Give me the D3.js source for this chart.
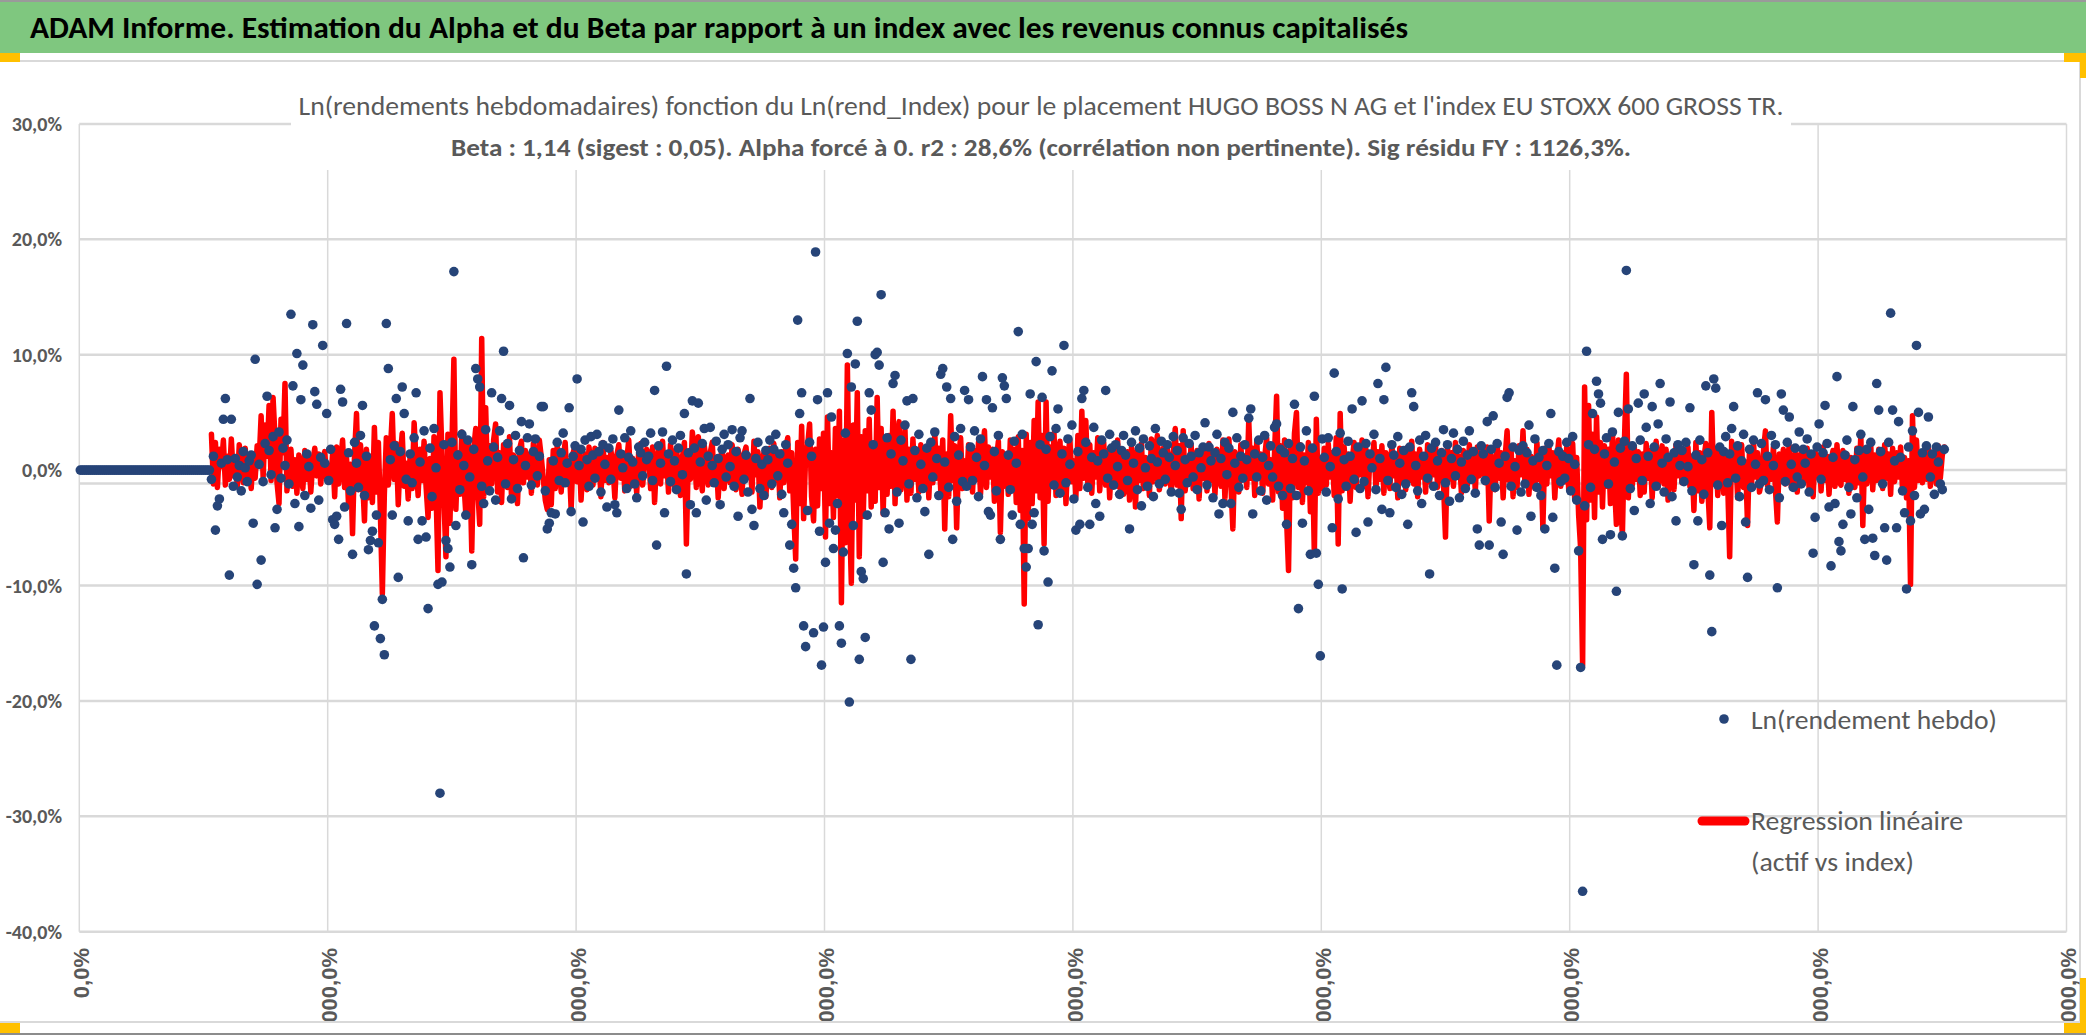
<!DOCTYPE html>
<html>
<head>
<meta charset="utf-8">
<script src="https://cdnjs.cloudflare.com/ajax/libs/d3/7.8.5/d3.min.js"></script>
<style>
  html, body { margin: 0; padding: 0; background: #fff; overflow: hidden; }
  svg { display: block; }
</style>
</head>
<body>
<svg id="chart" width="2086" height="1035"></svg>
<script>
// --- texts ---
const titreBandeau = "ADAM Informe. Estimation du Alpha et du Beta par rapport à un index avec les revenus connus capitalisés";
const titreLigne1 = "Ln(rendements hebdomadaires) fonction du Ln(rend_Index) pour le placement HUGO BOSS N AG et l'index EU STOXX 600 GROSS TR.";
const titreLigne2 = "Beta : 1,14 (sigest : 0,05). Alpha forcé à 0. r2 : 28,6% (corrélation non pertinente). Sig résidu FY : 1126,3%.";
const legendeRendement = "Ln(rendement hebdo)";
const legendeRegression = ["Regression linéaire", "(actif vs index)"];

// --- axes ---
const yTicks = [-40, -30, -20, -10, 0, 10, 20, 30];
const xTicks = [0, 250, 500, 750, 1000, 1250, 1500, 1750, 2000];
const xTickLabels = ["0,0%", "10000,0%", "20000,0%", "30000,0%", "40000,0%", "50000,0%", "60000,0%", "70000,0%", "80000,0%"];
const axeCroisement = -1.17; // horizontal axis line crosses the value axis here

// --- series (weekly, every 2nd week, values in %) ---
const pasSemaine = 2;
const debutAvant = 1;      // weeks without quotes: return is 0
const lnRendementAvant = [0,0,0,0,0,0,0,0,0,0,0,0,0,0,0,0,0,0,0,0,0,0,0,0,0,0,0,0,0,0,0,0,0,0,0,0,0,0,0,0,0,0,0,0,0,0,0,0,0,0,0,0,0,0,0,0,0,0,0,0,0,0,0,0,0,0];
const debutSerie = 133;
const lnRendement = [
-0.8,1.2,-5.2,-3.1,-2.5,0.6,4.4,6.2,0.9,-9.1,4.4,-1.4,1.0,-0.6,0.4,-1.8,1.6,0.2,-1.0,0.8,
1.3,-4.6,9.6,-9.9,0.5,-7.8,-1.0,2.3,6.4,1.7,-0.4,2.9,-5.0,-3.4,3.3,-0.7,1.9,0.4,2.6,-1.2,
13.5,7.3,-2.9,10.1,-4.9,6.1,9.1,-2.2,1.4,0.3,-3.3,12.6,6.8,5.7,-2.6,1.1,10.8,0.6,4.9,-0.9,
1.8,-4.3,-4.7,-4.0,-6.0,7.0,5.9,-3.2,12.7,1.5,-1.8,-7.3,2.4,0.6,-1.5,3.0,5.6,-2.2,1.2,-6.9,
-6.1,-5.3,-13.5,-3.9,-6.3,-14.6,-11.2,-16.0,12.7,8.8,0.9,-3.9,2.1,6.2,-9.3,1.6,7.2,4.9,-0.8,-4.4,
1.4,-1.1,2.8,6.7,-6.0,0.7,-4.4,3.4,-5.8,-12.0,1.9,-2.3,3.6,0.2,-9.9,-28.0,-9.7,2.2,-6.1,-6.8,
-8.4,2.4,17.2,-4.8,1.3,-1.7,3.1,0.4,-3.9,2.6,-0.6,-8.2,1.8,8.8,7.9,7.2,-1.4,-2.9,3.5,0.8,
-1.8,6.7,2.0,-2.6,1.1,3.4,6.2,10.3,-1.2,2.3,5.6,-2.5,0.9,3.0,-1.6,1.7,4.2,-7.6,0.4,2.8,
4.0,-1.3,1.6,2.7,-0.5,1.2,5.5,5.5,-1.8,-5.1,-4.6,-3.7,0.8,-3.8,2.4,-0.9,1.5,3.2,-1.1,0.6,
5.4,-3.6,1.2,2.1,7.9,0.4,1.8,-4.5,2.6,0.9,-1.4,2.9,1.3,-0.7,3.1,1.6,-1.9,2.2,0.5,-3.2,
1.9,-0.8,2.7,-3.0,-3.7,5.2,1.4,0.2,2.8,-1.6,1.1,3.4,0.7,-1.2,-2.4,2.0,1.5,-0.5,2.4,0.9,
1.2,3.2,-0.9,6.9,-6.5,2.1,0.6,3.3,-3.7,9.0,1.4,-1.0,2.6,0.8,-1.7,1.9,3.0,-0.4,4.9,-9.0,
1.5,-3.0,6.0,1.9,-3.7,5.8,0.7,2.3,3.6,-2.6,1.2,3.7,0.4,-1.1,2.5,1.0,-3.0,1.8,3.1,-0.6,
2.2,0.3,3.5,-1.4,1.6,-4.0,2.8,3.4,-0.8,1.3,-1.9,6.2,-3.4,-4.8,1.0,2.4,-1.6,0.5,-2.2,1.7,
0.9,2.6,-1.2,1.8,3.1,-0.5,1.4,-2.1,-3.7,2.2,0.6,-6.5,-4.7,-8.5,-10.2,13.0,4.9,6.7,-13.5,-15.3,
-3.5,2.4,1.2,-14.1,18.9,6.1,-5.3,-16.9,-13.6,-8.0,6.7,-4.6,4.6,-6.8,-5.2,-2.9,-13.5,-15.0,-7.1,3.2,
10.1,-20.1,7.2,-4.8,9.2,12.9,-16.4,-8.8,-9.4,-14.5,-3.9,6.7,5.2,2.2,10.0,10.2,9.1,15.2,-8.0,-3.7,
2.8,-5.1,1.4,7.5,8.2,-1.9,-4.6,2.6,0.8,3.9,6.0,-1.2,-16.4,6.2,1.7,-2.4,3.1,0.5,-1.6,-3.6,
1.9,-7.3,2.4,-0.6,3.3,1.0,-2.2,8.3,8.8,0.7,7.2,-1.5,6.2,-6.0,2.9,-2.7,1.3,3.6,-1.0,6.9,
-1.4,6.1,2.0,-0.9,3.4,1.1,-2.3,2.7,8.1,0.4,6.1,-3.6,-3.9,5.4,1.6,-1.8,3.0,-6.0,8.0,7.3,
6.2,1.3,-1.7,-3.9,2.5,0.6,12.0,-4.7,3.1,-6.8,-8.4,-6.8,6.6,-4.7,-3.7,9.4,-13.4,2.2,6.3,-7.0,
1.8,-9.7,2.9,8.6,-1.3,3.6,5.3,-2.0,1.4,10.8,-1.1,2.7,0.5,3.9,-2.5,-5.2,1.6,-4.7,6.2,6.9,
2.4,-1.5,-4.7,1.1,3.7,-2.9,0.8,-4.0,2.6,1.4,6.9,-0.7,3.1,1.9,-1.3,2.2,0.3,-2.1,1.7,3.0,
1.3,-0.9,-5.1,2.4,0.6,3.4,-1.7,1.9,-3.1,2.7,0.2,-1.4,2.1,1.0,-2.3,3.6,0.7,-1.2,2.5,1.5,
-0.8,2.2,1.1,-1.9,2.9,0.4,1.7,-2.0,-3.4,2.8,0.9,-1.1,2.3,1.2,-0.6,3.0,-1.7,1.5,0.2,2.0,
4.1,-1.3,2.0,0.8,-2.4,1.5,3.1,-3.8,1.0,-2.9,2.4,-0.4,1.9,-2.9,5.0,0.6,2.8,-1.5,1.2,-0.7,
2.2,0.9,4.5,5.3,-3.8,1.4,-0.6,2.6,-1.8,1.1,3.0,-2.6,0.4,2.1,-0.6,3.7,4.0,-1.4,1.8,-2.2,
1.5,-4.7,2.3,-1.6,1.0,5.7,-2.2,-12.0,2.0,-4.6,0.8,3.4,-1.8,-7.3,1.9,6.4,-7.2,-9.9,-16.1,2.7,
1.1,-1.9,2.8,0.3,-5.0,8.4,1.6,-2.5,3.2,-10.3,0.9,-1.4,2.5,1.2,5.3,-0.8,-5.4,2.0,-1.6,6.0,
-1.0,2.3,-4.5,1.4,0.2,3.1,-1.7,7.5,1.0,-3.4,6.1,8.9,-0.9,-3.7,2.2,1.3,-1.5,2.9,0.6,-2.1,
1.7,-1.2,-4.7,2.0,6.7,5.5,0.4,-1.8,2.6,-2.9,1.2,3.0,-0.7,-9.0,1.9,-1.4,2.4,0.8,-2.2,1.5,
3.5,-1.1,2.2,-2.7,1.0,3.2,-0.5,1.8,-2.4,0.7,2.5,-1.6,1.3,3.4,-0.8,1.6,-2.0,-5.1,-6.5,2.1,
1.4,-0.9,4.2,-6.5,1.8,4.7,-1.5,2.3,0.6,-4.5,-7.3,1.2,6.3,6.7,-1.4,2.0,0.3,-5.2,1.7,-1.9,
2.1,-1.2,1.5,3.9,-4.0,0.8,2.7,-1.5,1.1,-2.2,1.7,-5.1,0.4,2.3,4.9,-4.1,-8.5,-16.9,1.6,-1.0,
1.2,-0.7,2.4,1.0,-1.8,2.9,0.5,-2.6,-7.0,-17.1,-36.5,-3.1,10.3,2.2,-1.5,4.9,1.8,7.7,6.6,5.8,
-6.0,1.4,2.8,-1.2,-5.6,3.3,0.7,-10.5,5.0,1.9,-5.7,2.5,17.3,5.3,-1.6,2.1,-3.5,1.0,5.8,2.6,
-0.9,6.6,3.7,1.2,-2.9,5.5,2.0,-1.4,4.0,7.5,0.6,-1.9,2.7,1.1,5.9,-2.3,1.5,-4.4,2.2,0.4,
1.7,-1.0,2.4,0.3,5.4,-1.8,-8.2,1.3,-4.4,2.6,0.9,-2.1,7.3,1.5,-9.1,-14.0,7.9,7.1,-1.3,2.0,
-4.8,1.6,2.9,-1.1,1.4,3.6,5.5,-0.7,2.1,-2.3,0.8,3.1,-4.5,-9.3,1.8,-1.5,2.6,0.5,6.7,-1.2,
2.3,-0.9,6.1,1.2,-1.7,3.0,0.4,2.2,-10.2,-2.4,6.6,5.2,-1.0,2.4,4.6,0.5,-1.5,1.9,-0.6,3.3,
-1.2,1.8,0.6,2.7,-1.9,1.4,-7.2,-4.1,2.0,4.0,-0.8,1.5,5.6,2.3,-3.2,-8.3,1.1,-2.9,8.1,-6.2,
-7.0,-4.7,1.3,2.6,-1.5,-3.8,5.5,0.9,-2.4,1.7,3.1,-0.6,-6.0,1.8,-3.4,2.4,-5.9,-7.4,7.5,5.2,
1.6,-1.2,-5.0,-7.8,2.4,13.6,5.2,0.8,-5.0,4.2,1.1,-1.8,-3.7,-10.3,2.0,-4.4,3.4,-2.2,10.8,5.0,
-3.8,1.5,-3.4,2.1,4.6,-0.6,1.4,-2.1,2.0,0.7,-1.2,-1.7,1.8
];
const regression = [
3.1,-1.2,2.4,-1.5,1.8,0.3,2.6,-1.3,1.2,-0.8,2.7,-0.5,1.1,-1.4,2.2,0.4,-1.1,1.9,-0.9,0.6,
-1.6,1.4,-0.7,2.1,0.8,4.7,-0.6,3.9,1.2,5.6,-0.9,6.3,2.8,-1.1,-2.9,4.4,1.5,7.5,-1.8,0.7,
1.8,-1.4,0.9,-2.0,1.3,0.2,-1.6,1.7,-0.8,1.1,-1.9,0.7,1.9,-0.5,1.4,-1.2,0.8,1.6,-0.7,0.4,
-0.9,1.5,-2.3,2.0,-1.2,0.8,2.6,-1.5,1.0,-3.1,0.5,-5.5,1.3,4.9,-1.7,2.2,-0.6,-4.4,1.8,-2.4,
1.2,-2.8,3.7,-1.9,2.4,-3.6,-10.7,-2.1,2.8,-1.3,1.6,4.9,-0.8,2.3,-3.0,1.1,3.2,-1.4,0.6,-2.5,
1.3,-1.6,4.1,0.7,-2.2,1.8,-0.9,2.5,-1.4,-4.1,1.0,-3.3,2.9,-1.8,-8.7,6.7,1.4,-2.6,-7.5,3.1,
-4.6,2.0,9.6,-3.4,1.5,-2.1,3.3,-1.0,-3.8,2.7,0.5,-7.0,1.9,3.6,-1.7,-4.7,11.4,-2.3,5.4,-1.5,
2.1,-1.2,2.6,4.0,-1.9,1.5,-2.8,2.2,0.6,-1.5,2.9,-2.4,1.3,0.2,-2.9,1.8,2.5,-1.1,1.7,-0.6,
1.4,-2.0,2.3,0.5,-1.3,2.6,1.1,-0.8,-2.6,-3.4,0.9,-3.0,1.7,-1.6,2.2,0.3,-1.9,1.0,2.4,-1.2,
0.8,-3.4,1.5,2.1,-1.0,1.8,-2.6,0.6,1.4,-1.7,2.0,0.3,-1.3,1.9,-0.6,1.2,-2.3,2.4,-0.9,1.1,
-1.1,1.7,0.4,-2.4,1.3,2.2,-0.7,1.5,-1.8,0.9,2.6,-1.4,1.0,0.2,-2.0,1.6,2.3,-1.3,0.7,1.8,
1.4,-1.6,2.0,-2.8,0.9,1.7,-1.2,2.5,-0.5,1.3,-1.9,2.2,0.6,-1.4,1.8,0.3,-2.2,1.1,2.4,-6.4,
1.2,-0.8,3.3,1.6,-1.5,2.9,0.4,-1.8,2.1,0.8,-1.3,1.5,2.4,-0.9,1.1,-2.4,0.6,1.9,-1.6,0.9,
1.3,-1.1,2.2,0.3,-1.7,1.8,0.7,-2.1,1.4,2.0,-0.6,1.2,-1.9,2.5,-0.4,1.6,-3.2,0.8,1.5,-2.3,
0.7,1.9,-1.5,2.3,-0.9,1.2,-2.4,1.6,-1.1,2.0,2.8,-1.8,1.5,-3.6,-7.7,2.4,-2.9,3.8,-4.2,1.3,
2.1,4.0,-2.3,-4.4,1.8,-3.1,2.7,-1.6,3.2,-5.8,4.6,-2.9,1.5,-4.1,3.6,-2.2,5.1,-11.5,2.6,-6.3,
9.1,-3.4,-9.8,3.9,-2.6,6.7,-7.5,2.9,-4.0,3.4,-1.8,4.4,-3.2,2.1,-2.7,6.3,-1.5,3.6,-3.8,2.4,
-2.1,3.0,-1.4,5.1,-2.9,2.3,4.2,-1.7,1.2,3.5,-2.6,1.8,-2.0,2.7,-0.8,1.5,-1.9,2.2,0.4,-1.3,
1.6,-2.4,2.0,-1.1,3.1,-0.7,1.9,-1.8,2.6,-5.1,1.4,-2.3,4.7,-0.9,2.1,-5.0,1.2,2.8,-1.6,0.8,
-1.2,2.2,0.6,-1.9,1.7,-0.8,2.4,-2.1,1.3,3.4,-1.5,2.0,-0.6,1.8,-2.7,0.9,2.5,-5.4,1.6,-1.4,
1.4,-2.1,2.6,-1.3,1.8,-2.8,2.9,-3.5,1.7,-11.6,3.1,-4.2,2.4,-2.9,4.3,-1.8,5.9,-2.4,3.0,-6.4,
5.9,-2.7,2.0,-1.4,3.2,-2.2,1.1,2.5,-1.7,1.9,-2.9,1.3,2.6,-1.0,0.8,-2.3,3.0,-1.6,5.1,-0.7,
4.3,-1.1,2.2,-2.0,1.5,-0.6,2.8,-1.8,1.0,2.4,-1.3,1.7,-2.4,0.9,1.9,-0.8,2.6,-1.5,1.2,-2.1,
-1.4,1.6,-2.6,2.0,0.5,-3.2,1.8,-0.9,2.3,-1.6,1.1,0.4,-2.2,2.7,-1.0,1.4,3.0,-1.7,0.8,1.9,
-1.2,1.9,0.6,-2.0,1.4,3.6,-1.3,2.1,-4.2,3.4,-1.8,1.0,-0.5,2.2,-1.6,0.8,1.7,-2.5,1.3,-0.7,
1.5,-1.8,2.3,-0.9,1.2,-2.1,1.8,0.5,-1.4,2.6,-2.5,1.1,2.7,-1.2,-5.1,1.6,0.3,-1.9,2.2,-0.8,
1.2,-1.5,4.3,-0.7,1.9,-2.2,2.5,-0.6,1.4,-2.0,1.1,2.8,-1.2,0.9,-2.6,1.6,6.4,-1.9,2.1,-3.3,
2.6,-4.1,-8.7,1.8,-2.4,3.2,5.0,-1.5,2.2,-2.8,1.3,-1.1,2.4,-3.6,1.7,-7.3,4.4,-2.0,1.0,-1.6,
1.9,-1.3,2.3,-0.6,1.5,-2.2,2.8,-6.4,4.9,-1.8,2.0,-1.2,1.4,-2.7,0.8,2.4,-1.5,1.7,-0.4,2.6,
-1.4,1.8,-2.3,1.2,0.5,2.4,-1.7,1.6,-0.8,2.1,-2.0,1.5,0.9,-1.6,2.3,-0.5,1.3,-2.4,1.9,-1.0,
1.3,-1.7,2.0,-0.9,2.5,-1.2,1.4,-2.3,1.8,-0.6,1.1,-1.9,2.2,-1.0,1.6,-0.4,2.1,-1.5,0.9,1.7,
-1.2,-5.8,2.1,-0.8,1.5,-1.4,2.4,-0.6,1.2,-2.0,1.7,0.4,-1.3,2.2,-0.9,1.4,-1.8,2.0,-0.5,1.3,
1.6,-1.1,2.0,-4.4,1.3,0.5,-1.7,2.2,-0.7,1.5,-2.4,1.1,3.4,-0.9,1.8,-2.3,0.8,-1.5,2.1,-0.4,
3.4,-1.3,1.8,-2.1,1.2,0.6,-1.6,2.4,-0.8,1.3,-5.0,1.9,-1.2,2.2,-0.5,1.5,-2.4,0.9,2.6,-1.4,
1.5,-1.0,2.0,-1.7,0.8,2.3,-2.5,1.1,-3.9,-6.8,-16.9,7.2,-4.3,5.6,-2.6,3.1,-4.1,4.6,-1.9,2.4,
-3.2,2.1,-1.4,1.8,-2.9,3.4,-1.1,-4.7,2.6,-1.8,-5.7,2.2,8.3,-2.4,1.5,-1.3,2.0,-0.8,1.6,-2.2,
1.4,-1.9,2.3,-0.7,1.7,-2.4,1.0,2.5,-1.5,0.6,2.1,-1.2,1.8,-2.6,0.9,1.3,-1.7,2.2,-0.5,1.6,
-1.1,1.7,-0.6,2.0,-1.4,1.2,-3.5,2.4,-1.8,1.5,-2.7,1.0,2.3,-1.6,-5.0,5.0,-1.2,1.8,-2.2,0.7,
1.9,-2.0,1.2,-1.1,-7.5,2.5,-0.8,1.6,-2.4,1.1,2.2,-1.5,0.7,-4.8,1.9,-1.3,2.4,-0.6,1.5,-1.9,
-1.0,1.6,3.4,-1.3,1.2,-0.8,2.0,-1.6,-4.5,1.4,-0.7,1.8,-1.2,1.0,2.1,-1.4,0.6,1.5,-1.9,1.1,
1.5,-1.2,0.8,1.9,-1.7,1.1,-2.3,1.6,-0.5,1.3,-1.8,2.0,-0.9,1.2,-2.1,0.7,1.7,-1.4,2.2,-1.0,
-1.3,1.7,-0.8,1.4,-2.0,1.1,0.6,-1.5,1.9,-1.1,3.0,-4.8,1.6,-1.2,0.9,2.1,-1.7,1.3,-0.9,1.8,
1.2,-1.6,2.2,-0.7,1.4,-2.1,1.9,-1.0,1.5,-0.6,2.0,-1.8,1.1,-2.4,0.8,-9.9,4.7,-1.5,2.6,-0.9,
1.3,-1.1,1.6,-0.8,1.9,-1.4,0.9,1.5,-1.2,2.1,-0.7,1.3,2.0
];

// --- build ---
const W = 2086, H = 1035;
const svg = d3.select('#chart');
const gris = '#595959', grille = '#d9d9d9';
const fontCalibri = "Carlito, Lato, 'Noto Sans', sans-serif";

// top banner
svg.append('rect').attr('x', 0).attr('y', 0).attr('width', W).attr('height', 2).attr('fill', '#9a9a9a');
svg.append('rect').attr('x', 0).attr('y', 2).attr('width', W).attr('height', 51).attr('fill', '#7fc77f');
svg.append('text')
  .attr('x', 30).attr('y', 38)
  .attr('textLength', 1378).attr('lengthAdjust', 'spacingAndGlyphs')
  .style('font-family', fontCalibri).style('font-weight', 'bold').style('font-size', '30px')
  .attr('fill', '#000')
  .text(titreBandeau);

// chart area frame
svg.append('rect').attr('x', -2).attr('y', 61).attr('width', 2082).attr('height', 961)
  .attr('fill', '#fff').attr('stroke', grille).attr('stroke-width', 2);
svg.append('line').attr('x1', 0).attr('x2', W).attr('y1', 1034).attr('y2', 1034)
  .attr('stroke', '#8c8c8c').attr('stroke-width', 2);

const x = d3.scaleLinear().domain([0, 2000]).range([79.3, 2066.5]);
const y = d3.scaleLinear().domain([-40, 30]).range([931.7, 123.9]);

// gridlines
const grid = svg.append('g');
grid.selectAll('line.h').data(yTicks).join('line')
  .attr('class', 'h')
  .attr('x1', x(0)).attr('x2', x(2000))
  .attr('y1', d => y(d)).attr('y2', d => y(d))
  .attr('stroke', grille).attr('stroke-width', 2.5);
grid.selectAll('line.v').data(xTicks).join('line')
  .attr('class', 'v')
  .attr('x1', d => x(d)).attr('x2', d => x(d))
  .attr('y1', y(30)).attr('y2', y(-40))
  .attr('stroke', grille).attr('stroke-width', 1.5);
grid.append('line')
  .attr('x1', x(0)).attr('x2', x(2000))
  .attr('y1', y(axeCroisement)).attr('y2', y(axeCroisement))
  .attr('stroke', grille).attr('stroke-width', 2.5);

// y axis labels
const fmtPct = v => v.toFixed(1).replace('.', ',') + '%';
svg.append('g').selectAll('text').data(yTicks).join('text')
  .attr('x', 62).attr('y', d => y(d)).attr('dy', '0.35em')
  .attr('text-anchor', 'end')
  .style('font-family', fontCalibri).style('font-weight', 'bold').style('font-size', '20px')
  .attr('fill', gris)
  .text(fmtPct);

// x axis labels (rotated, clipped by the chart frame as in Excel)
svg.append('clipPath').attr('id', 'clipX')
  .append('rect').attr('x', 0).attr('y', 935).attr('width', W).attr('height', 86);
svg.append('g').attr('clip-path', 'url(#clipX)')
  .selectAll('text').data(xTicks).join('text')
  .attr('transform', d => `translate(${x(d) + 2},948) rotate(-90)`)
  .attr('dy', '0.35em')
  .attr('text-anchor', 'end')
  .style('font-family', "'Liberation Sans', Arial, sans-serif").style('font-weight', 'bold').style('font-size', '22px')
  .attr('fill', gris)
  .text((d, i) => xTickLabels[i]);

// chart title box (hides the gridlines behind it)
svg.append('rect').attr('x', 291).attr('y', 70).attr('width', 1500).attr('height', 100).attr('fill', '#fff');
svg.append('text')
  .attr('x', 1041).attr('y', 115).attr('text-anchor', 'middle')
  .attr('textLength', 1485).attr('lengthAdjust', 'spacingAndGlyphs')
  .style('font-family', fontCalibri).style('font-size', '27px')
  .attr('fill', gris)
  .text(titreLigne1);
svg.append('text')
  .attr('x', 1041).attr('y', 156).attr('text-anchor', 'middle')
  .attr('textLength', 1180).attr('lengthAdjust', 'spacingAndGlyphs')
  .style('font-family', fontCalibri).style('font-weight', 'bold').style('font-size', '25px')
  .attr('fill', gris)
  .text(titreLigne2);

// data
const pointsAvant = lnRendementAvant.map((v, i) => ({ w: debutAvant + i * pasSemaine, v }));
const points = lnRendement.map((v, i) => ({ w: debutSerie + i * pasSemaine, v }));
const ligne = regression.map((v, i) => ({ w: debutSerie + i * pasSemaine, v }));

const line = d3.line().x(d => x(d.w)).y(d => y(d.v));
svg.append('path').datum(ligne)
  .attr('d', line)
  .attr('fill', 'none').attr('stroke', '#ff0000').attr('stroke-width', 5.5)
  .attr('stroke-linejoin', 'round').attr('stroke-linecap', 'round');

svg.append('g').selectAll('circle').data(pointsAvant.concat(points)).join('circle')
  .attr('cx', d => x(d.w)).attr('cy', d => y(d.v)).attr('r', 4.8)
  .attr('fill', '#264478');

// legend
const leg = svg.append('g');
leg.append('circle').attr('cx', 1724).attr('cy', 719).attr('r', 4.8).attr('fill', '#264478');
leg.append('text').attr('x', 1751).attr('y', 729)
  .attr('textLength', 246).attr('lengthAdjust', 'spacingAndGlyphs')
  .style('font-family', fontCalibri).style('font-size', '26px').attr('fill', gris)
  .text(legendeRendement);
leg.append('line').attr('x1', 1702).attr('x2', 1745).attr('y1', 821).attr('y2', 821)
  .attr('stroke', '#ff0000').attr('stroke-width', 9).attr('stroke-linecap', 'round');
leg.selectAll('text.reg').data(legendeRegression).join('text')
  .attr('class', 'reg')
  .attr('x', 1751).attr('y', (d, i) => 830 + i * 41)
  .attr('textLength', (d, i) => i === 0 ? 212 : 163).attr('lengthAdjust', 'spacingAndGlyphs')
  .style('font-family', fontCalibri).style('font-size', '26px').attr('fill', gris)
  .text(d => d);

// selection handles
const poignees = [[0, 53, 20, 9], [2064, 53, 22, 9], [2080, 53, 6, 25], [0, 1023, 20, 10], [2080, 978, 6, 55], [2064, 1023, 22, 10]];
svg.append('g').selectAll('rect').data(poignees).join('rect')
  .attr('x', d => d[0]).attr('y', d => d[1]).attr('width', d => d[2]).attr('height', d => d[3])
  .attr('fill', '#ffc000');
</script>
</body>
</html>
